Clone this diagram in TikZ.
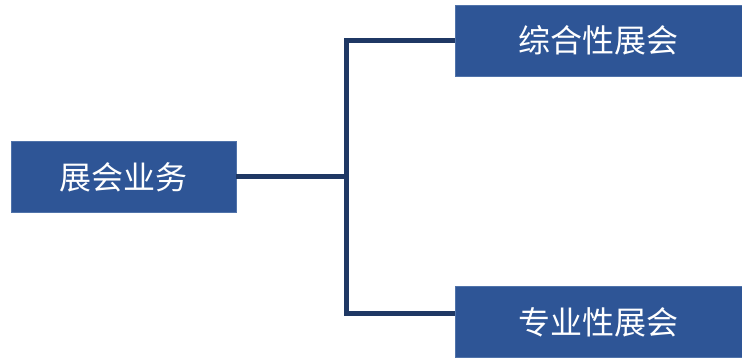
\documentclass[tikz,border=0pt]{standalone}
\usepackage{fontspec}
\usepackage{xcolor}
\usepackage{tikz}
\usetikzlibrary{trees}
\newfontfamily\cjk{Noto Sans CJK SC}
\definecolor{boxblue}{RGB}{46,85,150}
\definecolor{boxedge}{RGB}{80,115,170}
\definecolor{linenavy}{RGB}{31,56,100}
\tikzset{
  bizbox/.style={fill=boxblue, draw=boxedge, line width=0.8pt, text=white,
                 font=\cjk\fontsize{32}{38}\selectfont,
                 minimum height=71pt, inner sep=0pt},
  rootbox/.style={bizbox, minimum width=225pt},
  leafbox/.style={bizbox, minimum width=287pt}
}
\begin{document}
\begin{tikzpicture}[x=1pt, y=1pt, grow=right,
                    level distance=475pt,
                    level 1/.style={sibling distance=273pt},
                    edge from parent path={(\tikzparentnode.east) -- ++(110.5pt,0pt)
                                           |- (\tikzchildnode.west)},
                    edge from parent/.style={draw=linenavy, line width=5pt}]
  \useasboundingbox (0,0) rectangle (742,358);
  \node[rootbox] (zhanhui) at (123.5,181) {展会业务}
    child[edge from parent path={(\tikzparentnode.east) -- ++(110.5pt,0pt)
                                 |- ([yshift=8.5pt]\tikzchildnode.west)}] {
      node[leafbox, yshift=-8.5pt] (zhuanye) {专业性展会}
    }
    child {node[leafbox] (zonghe) {综合性展会}};
\end{tikzpicture}
\end{document}
